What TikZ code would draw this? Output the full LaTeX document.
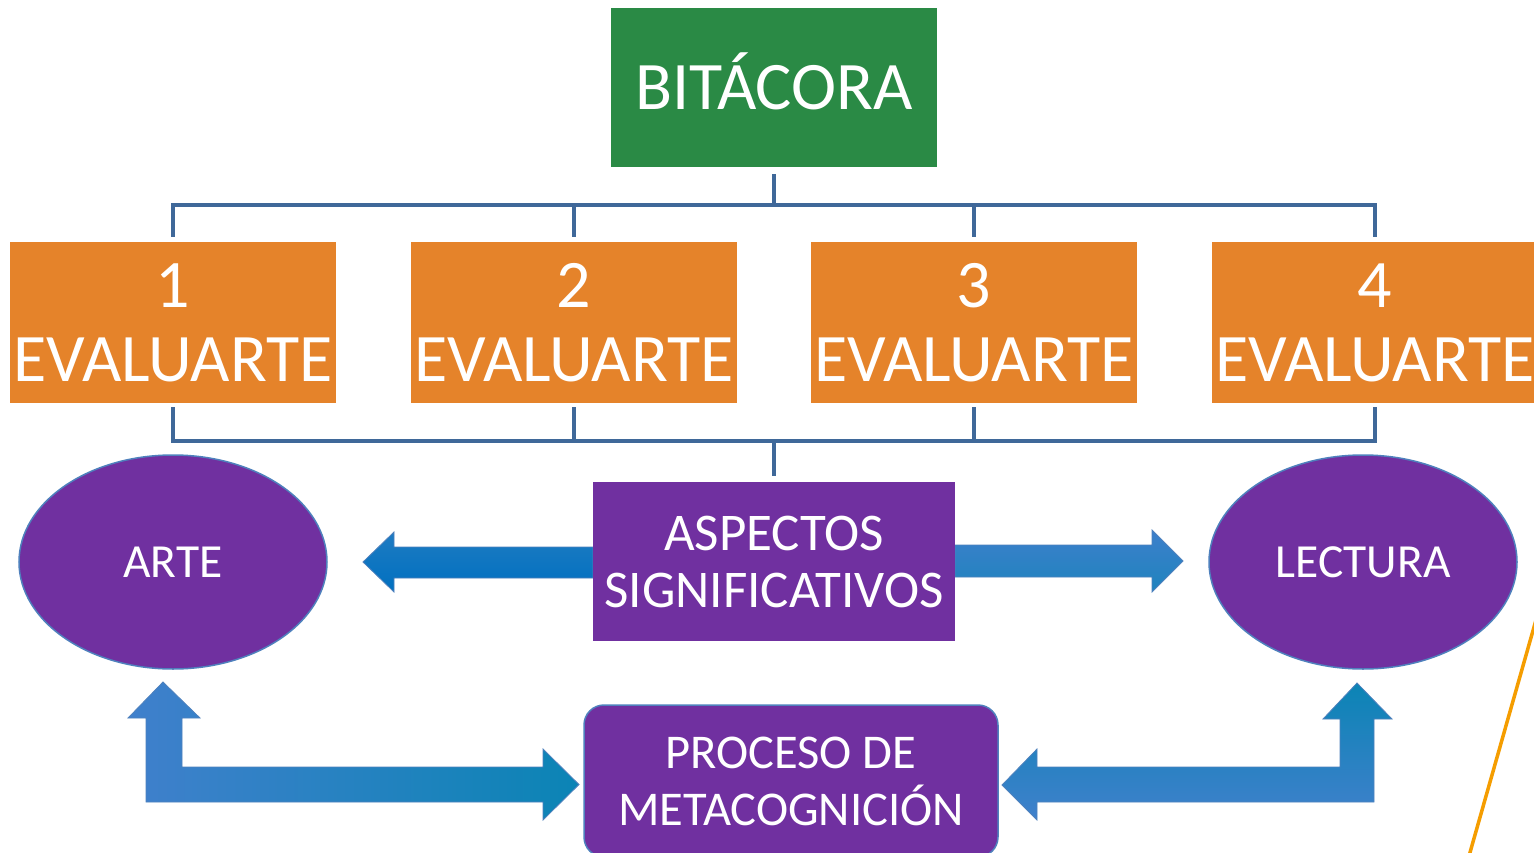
\documentclass[tikz,border=0pt]{standalone}
\usepackage{fontspec}
\setmainfont{Carlito}
\usetikzlibrary{shapes.geometric}
\definecolor{bitgreen}{HTML}{2A8A45}
\definecolor{evorange}{HTML}{E5832A}
\definecolor{mpurple}{HTML}{7030A0}
\definecolor{connblue}{HTML}{3F6899}
\definecolor{edgeblue}{HTML}{4F81BD}
\definecolor{arrA}{HTML}{1E7BC2}
\definecolor{arrB}{HTML}{0070C0}
\definecolor{arrC}{HTML}{3D7FCB}
\definecolor{arrD}{HTML}{1E84BE}
\definecolor{arrE}{HTML}{4080CC}
\definecolor{arrF}{HTML}{0B84B5}
\definecolor{slash}{HTML}{F59D00}
\tikzset{
  x=1pt, y=-1pt,
  boxbase/.style={inner sep=0pt, text=white, align=center},
  bitbox/.style={boxbase, fill=bitgreen, minimum width=326pt, minimum height=159pt, text height=44pt, text depth=0pt, font=\fontsize{68}{74}\selectfont},
  evbox/.style={boxbase, fill=evorange, minimum width=326pt, minimum height=161pt, font=\fontsize{68}{74}\selectfont},
  aspbox/.style={boxbase, fill=mpurple, minimum width=362pt, minimum height=159pt, font=\fontsize{53}{57}\selectfont},
  procbox/.style={boxbase, fill=mpurple, draw=edgeblue, line width=1.5pt, rounded corners=20pt, minimum width=414pt, minimum height=152pt, font=\fontsize{48.5}{57}\selectfont},
  oval/.style={boxbase, ellipse, fill=mpurple, draw=edgeblue, line width=1.5pt, minimum width=308pt, minimum height=214pt, font=\fontsize{47.5}{50}\selectfont},
  conn/.style={draw=connblue, line width=4pt},
  blockarrow/.style={draw=edgeblue, line width=0.8pt},
}
\begin{document}
\begin{tikzpicture}
\useasboundingbox (0,0) rectangle (1534,853);
\fill[white] (0,0) rectangle (1534,853);

% nodes
\node[bitbox] (bit) at (774,87.5) {BITÁCORA};
\node[evbox] (e1) at (173,322.5) {1\\EVALUARTE};
\node[evbox] (e2) at (574,322.5) {2\\EVALUARTE};
\node[evbox] (e3) at (974,322.5) {3\\EVALUARTE};
\node[evbox] (e4) at (1375,322.5) {4\\EVALUARTE};
\node[aspbox] (asp) at (774,561.5) {ASPECTOS\\SIGNIFICATIVOS};
\node[oval] (arte) at (173,562) {ARTE};
\node[oval] (lect) at (1363,562) {LECTURA};

% tree connectors
\coordinate (hub) at (774,205);
\coordinate (hubb) at (774,441);
\draw[conn] ([yshift=-7pt]bit.south) -- (hub);
\draw[conn] ([yshift=5pt]e1.north) |- (e4.north |- hub) -- ([yshift=5pt]e4.north);
\draw[conn] ([yshift=5pt]e2.north) -- (e2.north |- hub);
\draw[conn] ([yshift=5pt]e3.north) -- (e3.north |- hub);
\draw[conn] ([yshift=-4pt]e1.south) |- (e4.south |- hubb) -- ([yshift=-4pt]e4.south);
\draw[conn] ([yshift=-4pt]e2.south) -- (e2.south |- hubb);
\draw[conn] ([yshift=-4pt]e3.south) -- (e3.south |- hubb);
\draw[conn] (hubb) -- ([yshift=6pt]asp.north);

% side block arrows
\shade[blockarrow, top color=arrA, bottom color=arrB]
  (593,547) -- (394,547) -- (394,532) -- (363,562) -- (394,592) -- (394,578) -- (593,578) -- cycle;
\shade[blockarrow, top color=arrC, bottom color=arrD]
  (955,545) -- (1152,545) -- (1152,530) -- (1183,561) -- (1152,592) -- (1152,577) -- (955,577) -- cycle;
\node[aspbox] at (asp) {ASPECTOS\\SIGNIFICATIVOS};

% bottom box
\node[procbox] (proc) at (791,781) {PROCESO DE\\METACOGNICIÓN};

% bent block arrows
\shade[blockarrow, left color=arrE, right color=arrF]
  (163,682) -- (200,718) -- (182,718) -- (182,767) -- (543,767) -- (543,749) -- (579,784.5)
  -- (543,820) -- (543,802) -- (146,802) -- (146,718) -- (128,718) -- cycle;
\shade[blockarrow, top color=arrF, bottom color=arrE]
  (1002,785) -- (1037,749) -- (1037,767) -- (1340,767) -- (1340,719) -- (1323,719)
  -- (1357,683) -- (1392,719) -- (1374,719) -- (1374,802) -- (1037,802) -- (1037,820) -- cycle;

% decorative orange line
\draw[slash, line width=3.5pt] (1536,620) -- (1469,856);
\end{tikzpicture}
\end{document}
